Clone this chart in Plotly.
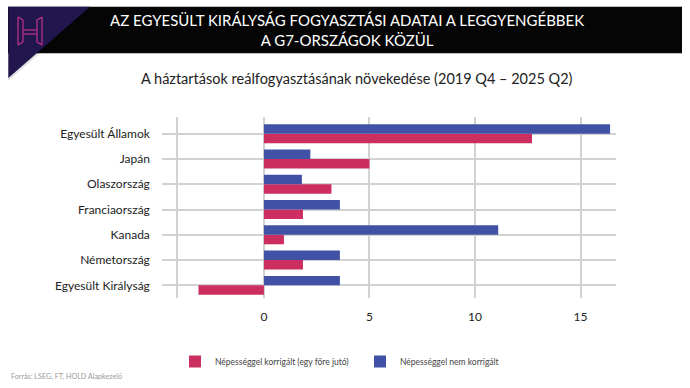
import plotly.graph_objects as go

countries = ["Egyesült Államok", "Japán", "Olaszország", "Franciaország",
             "Kanada", "Németország", "Egyesült Királyság"]
per_capita = [12.7, 5.0, 3.2, 1.85, 0.95, 1.85, -3.1]
not_adjusted = [16.4, 2.2, 1.8, 3.6, 11.1, 3.6, 3.6]
series_names = ["Népességgel korrigált (egy főre jutó)", "Népességgel nem korrigált"]
x_ticks = [0, 5, 10, 15]

W, H = 690, 388
L, R, T, B = 178, 74, 117, 90
PW, PH = W - L - R, H - T - B

def px(x):
    return (x - L) / PW

def py(y):
    return 1 - (y - T) / PH

RED = "#cc2e60"
BLUE = "#4152a6"
FONT = "Lato"

fig = go.Figure()
fig.add_trace(go.Bar(y=countries, x=per_capita, orientation="h", name=series_names[0],
                     marker=dict(color=RED, line=dict(width=0)), legend="legend"))
fig.add_trace(go.Bar(y=countries, x=not_adjusted, orientation="h", name=series_names[1],
                     marker=dict(color=BLUE, line=dict(width=0)), legend="legend2"))

shapes = [
    # black banner
    dict(type="rect", xref="paper", yref="paper", x0=px(8), x1=px(682), y0=py(53.3), y1=py(6.7),
         fillcolor="#050505", line=dict(width=0), layer="above"),
    # shadow of triangle
    dict(type="path", xref="paper", yref="paper",
         path=f"M{px(8)},{py(53)} L{px(8)},{py(81)} L{px(40)},{py(53)} Z",
         fillcolor="rgba(0,0,0,0.12)", line=dict(width=0), layer="above"),
    # navy triangle
    dict(type="path", xref="paper", yref="paper",
         path=f"M{px(8.3)},{py(6.7)} L{px(90)},{py(6.7)} L{px(8.3)},{py(78)} Z",
         fillcolor="#22164f", line=dict(width=0), layer="above"),
]
# logo "H" outline
hx0, hx1, hy0, hy1 = 18, 42, 17, 45
logo = [(hx0, hy0, hx0, hy1), (hx0 + 5, hy0 + 3, hx0 + 5, hy1 - 3),
        (hx1, hy0, hx1, hy1), (hx1 - 5, hy0 + 3, hx1 - 5, hy1 - 3),
        (hx0 + 5, hy0 + 13, hx1 - 5, hy0 + 13), (hx0 + 5, hy0 + 17, hx1 - 5, hy0 + 17),
        (hx0, hy0, hx0 + 5, hy0 + 3), (hx1, hy0, hx1 - 5, hy0 + 3),
        (hx0, hy1, hx0 + 5, hy1 - 3), (hx1, hy1, hx1 - 5, hy1 - 3)]
for a, b, c, d in logo:
    shapes.append(dict(type="line", xref="paper", yref="paper", x0=px(a), y0=py(b), x1=px(c), y1=py(d),
                       line=dict(color="#c0348a", width=1.2), layer="above"))

annotations = [
    dict(text="AZ EGYESÜLT KIRÁLYSÁG FOGYASZTÁSI ADATAI A LEGGYENGÉBBEK<br>A G7-ORSZÁGOK KÖZÜL",
         xref="paper", yref="paper", x=px(347), y=py(30), xanchor="center", yanchor="middle",
         showarrow=False, font=dict(family=FONT, size=15, color="white")),
    dict(text="A háztartások reálfogyasztásának növekedése (2019 Q4 – 2025 Q2)",
         xref="paper", yref="paper", x=px(357), y=py(78), xanchor="center", yanchor="middle",
         showarrow=False, font=dict(family=FONT, size=14.5, color="#222222")),
    dict(text="Forrás: LSEG, FT, HOLD Alapkezelő",
         xref="paper", yref="paper", x=px(9), y=py(376), xanchor="left", yanchor="middle",
         showarrow=False, font=dict(family=FONT, size=7.2, color="#9a9a9a")),
]

legend_font = dict(family=FONT, size=8.5, color="#444444")
fig.update_layout(
    width=W, height=H,
    margin=dict(l=L, r=R, t=T, b=B),
    paper_bgcolor="white", plot_bgcolor="white",
    barmode="group", bargap=0.25, bargroupgap=0,
    showlegend=True,
    legend=dict(orientation="h", x=px(175), y=py(347), xanchor="left", yanchor="top",
                font=legend_font, itemclick=False),
    legend2=dict(orientation="h", x=px(360), y=py(347), xanchor="left", yanchor="top",
                 font=legend_font, itemclick=False),
    shapes=shapes, annotations=annotations,
    xaxis=dict(range=[-4.07, 16.68], tickvals=x_ticks, showgrid=True, gridcolor="#d2d2d2",
               gridwidth=1.5, zeroline=False, ticks="outside", ticklen=8, tickcolor="rgba(0,0,0,0)",
               tickfont=dict(family=FONT, size=12, color="#222222"), fixedrange=True),
    yaxis=dict(categoryorder="array", categoryarray=countries[::-1], range=[-0.5, 6.66],
               showgrid=True, gridcolor="#d2d2d2", gridwidth=1.5, ticks="outside", ticklen=14,
               tickcolor="#d2d2d2", tickwidth=1.5, showline=True, linecolor="#d2d2d2", linewidth=1.5,
               ticklabelstandoff=10, tickfont=dict(family=FONT, size=12, color="#222222"),
               fixedrange=True),
)

fig.write_html("out.html", config={"displayModeBar": False},
               post_script="document.body.style.margin='0';")
